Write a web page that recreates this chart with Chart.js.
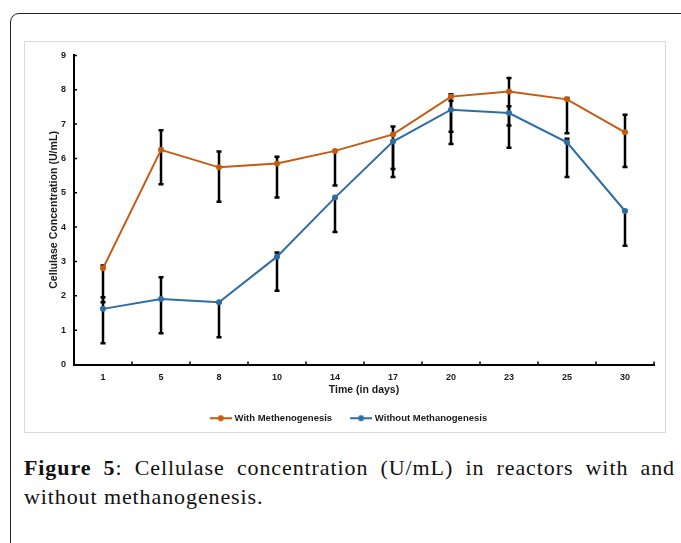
<!DOCTYPE html>
<html>
<head>
<meta charset="utf-8">
<script src="https://cdn.jsdelivr.net/npm/chart.js@4.4.1/dist/chart.umd.min.js"></script>
<style>
  html, body { margin: 0; padding: 0; background: #fff; width: 681px; height: 543px; overflow: hidden; }
  #frame {
    position: absolute; left: 10px; top: 13px; width: 720px; height: 600px;
    border: 1.5px solid #222; border-radius: 9px;
  }
  #chart-box {
    position: absolute; left: 24px; top: 41px; width: 642px; height: 392px;
    box-sizing: border-box; border: 1px solid #d9d9d9; background: #fff;
  }
  #chart-box canvas { position: absolute; left: 0; top: 0; }
  #caption {
    position: absolute; left: 24px; top: 453px; width: 651px;
    font-family: "Liberation Serif", serif; font-size: 22px; line-height: 29px;
    letter-spacing: 0.9px; text-align: justify; color: #111;
  }
</style>
</head>
<body>
<div id="frame"></div>
<div id="chart-box"><canvas id="cellulaseChart" width="640" height="390"></canvas></div>
<div id="caption"><b>Figure 5</b>: Cellulase concentration (U/mL) in reactors with and without methanogenesis.</div>

<script>
// days on the x axis
const days = ["1", "5", "8", "10", "14", "17", "20", "23", "25", "30"];

// With Methenogenesis (mean + error bar ends)
const withMeth     = [2.80, 6.25, 5.74, 5.85, 6.22, 6.70, 7.80, 7.95, 7.72, 6.76];
const withMethHigh = [2.88, 6.82, 6.20, 6.05, 6.22, 6.93, 7.87, 8.34, 7.76, 7.27];
const withMethLow  = [1.81, 5.25, 4.74, 4.86, 5.21, 5.69, 6.78, 6.96, 6.73, 5.75];

// Without Methanogenesis
const withoutMeth     = [1.62, 1.91, 1.81, 3.14, 4.86, 6.49, 7.42, 7.32, 6.47, 4.47];
const withoutMethHigh = [1.96, 2.54, 1.81, 3.26, 4.86, 6.49, 7.68, 7.52, 6.57, 4.47];
const withoutMethLow  = [0.62, 0.91, 0.79, 2.15, 3.86, 5.46, 6.42, 6.31, 5.46, 3.46];

const yMin = 0;
const yMax = 9;
const yStep = 1;

const colors = {
  orange: "#c55a11",
  blue: "#2e6da4",
  text: "#1a1a1a"
};
const fontFamily = "'Liberation Sans', Arial, sans-serif";
const tickFont = { family: fontFamily, size: 9, weight: "bold" };
const titleFont = { family: fontFamily, size: 10.5, weight: "bold" };
const legendFont = { family: fontFamily, size: 9.5, weight: "bold" };

// little line-with-dot marker for the legend, like Excel does
// (drawn 2px right of centre so the text sits close to it)
function legendMarker(color) {
  const c = document.createElement("canvas");
  c.width = 24;
  c.height = 8;
  const g = c.getContext("2d");
  g.strokeStyle = color;
  g.lineWidth = 2;
  g.beginPath();
  g.moveTo(2, 4);
  g.lineTo(24, 4);
  g.stroke();
  g.fillStyle = color;
  g.beginPath();
  g.arc(13, 4, 3, 0, Math.PI * 2);
  g.fill();
  return c;
}

// error bars drawn under the markers
const errorBars = {
  id: "errorBars",
  beforeDatasetsDraw(chart) {
    const { ctx, scales: { x, y } } = chart;
    const ends = [[withMethLow, withMethHigh], [withoutMethLow, withoutMethHigh]];
    ctx.save();
    ctx.strokeStyle = "#000";
    ctx.lineWidth = 2.5;
    ends.forEach(([low, high]) => {
      low.forEach((lo, i) => {
        const px = x.getPixelForValue(i);
        const top = y.getPixelForValue(high[i]);
        const bot = y.getPixelForValue(lo);
        ctx.beginPath();
        ctx.moveTo(px, top);
        ctx.lineTo(px, bot);
        ctx.moveTo(px - 2.5, top);
        ctx.lineTo(px + 2.5, top);
        ctx.moveTo(px - 2.5, bot);
        ctx.lineTo(px + 2.5, bot);
        ctx.stroke();
      });
    });
    ctx.restore();
  }
};

// small inside tick marks on both axes
const insideTicks = {
  id: "insideTicks",
  afterDraw(chart) {
    const { ctx, scales: { x, y } } = chart;
    ctx.save();
    ctx.strokeStyle = "#000";
    ctx.lineWidth = 1.5;
    ctx.beginPath();
    const n = days.length;
    for (let i = 1; i <= n; i++) {
      const px = x.left + (x.width / n) * i;
      ctx.moveTo(px, y.bottom);
      ctx.lineTo(px, y.bottom - 3);
    }
    for (let v = yMin + yStep; v <= yMax; v += yStep) {
      const py = y.getPixelForValue(v);
      ctx.moveTo(x.left, py);
      ctx.lineTo(x.left + 3, py);
    }
    ctx.stroke();
    ctx.restore();
  }
};

const ctx = document.getElementById("cellulaseChart").getContext("2d");

new Chart(ctx, {
  type: "line",
  data: {
    labels: days,
    datasets: [
      {
        label: "With Methenogenesis",
        data: withMeth,
        borderColor: colors.orange,
        backgroundColor: colors.orange,
        borderWidth: 2,
        pointRadius: 3,
        pointBorderWidth: 0,
        tension: 0,
        fill: false
      },
      {
        label: "Without Methanogenesis",
        data: withoutMeth,
        borderColor: colors.blue,
        backgroundColor: colors.blue,
        borderWidth: 2,
        pointRadius: 3,
        pointBorderWidth: 0,
        tension: 0,
        fill: false
      }
    ]
  },
  options: {
    responsive: false,
    animation: false,
    devicePixelRatio: 1,
    layout: {
      padding: { left: 18, right: 11, top: 7, bottom: -1 }
    },
    plugins: {
      tooltip: { enabled: false },
      title: { display: false },
      legend: {
        display: true,
        position: "bottom",
        labels: {
          color: colors.text,
          font: legendFont,
          usePointStyle: true,
          pointStyleWidth: 20,
          padding: 18,
          generateLabels(chart) {
            const items = Chart.defaults.plugins.legend.labels.generateLabels(chart);
            items.forEach((item, i) => {
              item.pointStyle = legendMarker(chart.data.datasets[i].borderColor);
            });
            return items;
          }
        }
      }
    },
    scales: {
      x: {
        type: "category",
        offset: true,
        grid: { display: false, drawTicks: false },
        border: { display: true, color: "#000", width: 2 },
        ticks: { color: colors.text, font: tickFont, padding: 8, maxRotation: 0 },
        title: { display: true, text: "Time (in days)", color: colors.text, font: titleFont, padding: { top: 4, bottom: -1.3 } },
        afterFit(scale) { scale.height = 31; }
      },
      y: {
        min: yMin,
        max: yMax,
        grid: { display: false, drawTicks: false },
        border: { display: true, color: "#000", width: 2 },
        ticks: { stepSize: yStep, color: colors.text, font: tickFont, padding: 8 },
        title: { display: true, text: "Cellulase Concentration (U/mL)", color: colors.text, font: { family: fontFamily, size: 10.6, weight: "bold" }, padding: { top: 5, bottom: 4 } },
        afterFit(scale) { scale.width = 31; }
      }
    }
  },
  plugins: [errorBars, insideTicks]
});
</script>
</body>
</html>
